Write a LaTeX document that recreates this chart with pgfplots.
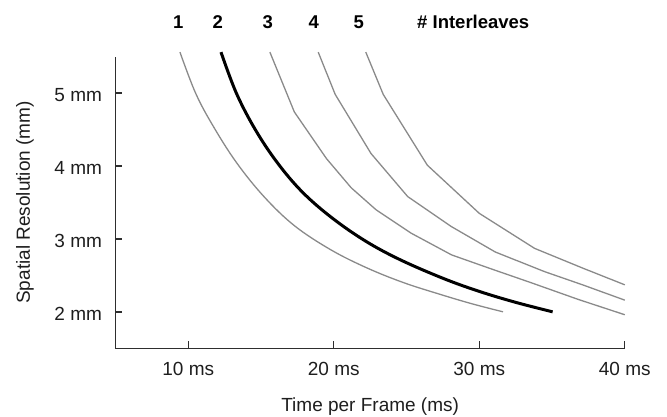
\documentclass[border=0pt]{standalone}
\usepackage{pgfplots}
\pgfplotsset{compat=1.18}
\usepackage{fontspec}
\setmainfont{Liberation Sans}

\definecolor{curvegray}{HTML}{8A8A8A}
\definecolor{axisgray}{HTML}{2E2E2E}
\definecolor{labelgray}{HTML}{1E1E1E}

\begin{document}
\begin{tikzpicture}[font=\fontsize{19bp}{22bp}\selectfont]
% page frame: 667 x 417 px, 1bp per px, axis box lower left at the origin
\path (-115.5bp,-68.7bp) rectangle (551.5bp,348.3bp);
\begin{axis}[
    at={(0,0)}, anchor=south west,
    width=509.3bp, height=291.8bp, scale only axis,
    xmin=5, xmax=40, ymin=1.5, ymax=5.5,
    axis lines=left,
    axis line style={-, axisgray, line width=1.4bp},
    tick style={axisgray, line width=1.4bp},
    tick align=inside,
    major tick length=7bp,
    xtick={10,20,30,40}, ytick={2,3,4,5},
    xticklabels={10 ms,20 ms,30 ms,40 ms},
    yticklabels={2 mm,3 mm,4 mm,5 mm},
    xticklabel style={anchor=base, inner sep=0pt, yshift=-26.7bp, text=labelgray},
    yticklabel style={anchor=base east, inner sep=0pt, xshift=-13.3bp, yshift=-8.4bp, text=labelgray},
    xlabel={Time per Frame (ms)},
    ylabel={Spatial Resolution (mm)},
    xlabel style={at={(axis description cs:0.5,-0.2173)}, anchor=base, inner sep=0pt, text=labelgray},
    ylabel style={at={(axis description cs:-0.1679,0.5)}, rotate=0, anchor=base, inner sep=0pt, text=labelgray},
    clip=false,
]
% 1 interleave
\addplot[curvegray, line width=1.3bp, smooth, tension=0.6] coordinates {
  (9.43,5.56) (10.50,5.00) (11.70,4.55) (13.30,4.05) (15.20,3.58) (17.30,3.18)
  (19.80,2.85) (22.30,2.60) (24.80,2.40) (27.30,2.24) (29.50,2.11) (31.63,2.00)
};
% 2 interleaves (highlighted)
\addplot[black, line width=3bp, smooth, tension=0.6] coordinates {
  (12.25,5.56) (13.30,5.00) (14.60,4.50) (16.10,4.05) (17.80,3.65) (19.80,3.30)
  (22.10,2.98) (24.50,2.72) (27.50,2.46) (30.00,2.28) (32.50,2.13) (35.04,2.00)
};
% 3 interleaves
\addplot[curvegray, line width=1.3bp] coordinates {
  (15.61,5.56) (17.29,4.74) (19.50,4.10) (21.20,3.70) (22.90,3.40) (25.30,3.08)
  (28.10,2.78) (30.80,2.59) (33.55,2.40) (36.80,2.17) (40.00,1.96)
};
% 4 interleaves
\addplot[curvegray, line width=1.3bp] coordinates {
  (18.93,5.56) (20.10,4.98) (22.56,4.17) (25.08,3.58) (28.07,3.17) (31.10,2.82)
  (34.50,2.55) (37.10,2.37) (40.00,2.16)
};
% 5 interleaves
\addplot[curvegray, line width=1.3bp] coordinates {
  (22.20,5.56) (23.40,4.98) (26.43,4.01) (30.00,3.35) (33.80,2.87) (37.10,2.60) (40.00,2.37)
};
\begin{scope}[every node/.style={font=\fontsize{18.5bp}{20bp}\selectfont\bfseries, inner sep=0pt, text=black}]
\node[anchor=base] at (axis cs:9.31,5.886) {1};
\node[anchor=base] at (axis cs:12.02,5.886) {2};
\node[anchor=base] at (axis cs:15.46,5.886) {3};
\node[anchor=base] at (axis cs:18.62,5.886) {4};
\node[anchor=base] at (axis cs:21.71,5.886) {5};
\node[anchor=base west] at (axis cs:25.72,5.886) {\# Interleaves};
\end{scope}
\end{axis}
\end{tikzpicture}
\end{document}
